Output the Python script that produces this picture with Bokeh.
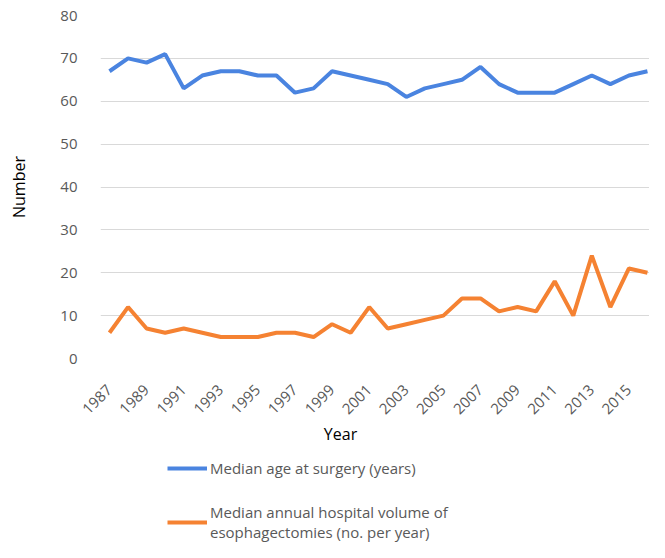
import math
from bokeh.plotting import figure
from bokeh.layouts import column
from bokeh.models import Legend, LegendItem, FixedTicker, ColumnDataSource, Range1d, Label
from bokeh.embed import file_html
from bokeh.resources import INLINE

years = list(range(1987, 2017))
median_age = [67, 70, 69, 71, 63, 66, 67, 67, 66, 66, 62, 63, 67, 66, 65,
              64, 61, 63, 64, 65, 68, 64, 62, 62, 62, 64, 66, 64, 66, 67]
median_volume = [6, 12, 7, 6, 7, 6, 5, 5, 5, 6, 6, 5, 8, 6, 12,
                 7, 8, 9, 10, 14, 14, 11, 12, 11, 18, 10, 24, 12, 21, 20]
x_ticks = list(range(1987, 2016, 2))
y_ticks = [0, 10, 20, 30, 40, 50, 60, 70, 80]
series_labels = ["Median age at surgery (years)",
                 "Median annual hospital volume of\nesophagectomies (no. per year)"]
series_colors = ["#4A84E0", "#F58232"]
x_title = "Year"
y_title = "Number"

src = ColumnDataSource(dict(year=years, age=median_age, vol=median_volume))

FONT = "Open Sans"
GRAY = "#595959"

p = figure(width=649, height=424, output_backend="svg", toolbar_location=None,
           x_range=Range1d(1986.515, 2016.11), y_range=Range1d(0, 80),
           min_border_left=100, min_border_right=0, min_border_top=15,
           min_border_bottom=66)
p.outline_line_color = None

r1 = p.line("year", "age", source=src, line_color=series_colors[0], line_width=4)
r2 = p.line("year", "vol", source=src, line_color=series_colors[1], line_width=4)

p.xaxis.ticker = FixedTicker(ticks=x_ticks)
p.yaxis.ticker = FixedTicker(ticks=y_ticks)
p.xgrid.grid_line_color = None
p.ygrid.grid_line_color = "#D9D9D9"
p.ygrid.grid_line_width = 1

for ax in (p.xaxis, p.yaxis):
    ax.axis_line_color = None
    ax.major_tick_line_color = None
    ax.minor_tick_line_color = None
    ax.major_label_text_font = FONT
    ax.major_label_text_color = GRAY
    ax.major_label_text_font_size = "15px"
    ax.axis_label_text_font = FONT
    ax.axis_label_text_font_style = "normal"
    ax.axis_label_text_font_size = "16px"
    ax.axis_label_text_color = "#000000"

p.xaxis.major_label_orientation = math.pi / 4
p.xaxis.major_label_standoff = 23
p.yaxis.major_label_standoff = 17
p.yaxis.axis_label = y_title
p.yaxis.axis_label_standoff = 27

# lower panel: x-axis title and legend (series drawn out of view, for legend glyphs)
p2 = figure(width=649, height=118, output_backend="svg", toolbar_location=None,
            x_range=Range1d(0, 1), y_range=Range1d(0, 1),
            min_border_left=0, min_border_right=0, min_border_top=0,
            min_border_bottom=0)
p2.outline_line_color = None
p2.axis.visible = False
p2.grid.visible = False

d1 = p2.line("year", "age", source=src, line_color=series_colors[0], line_width=4)
d2 = p2.line("year", "vol", source=src, line_color=series_colors[1], line_width=4)

p2.add_layout(Label(x=240, y=109, x_units="screen", y_units="screen", text=x_title,
                    text_font=FONT, text_font_size="16px", text_color="#000000",
                    text_align="center", text_baseline="middle"))

legend = Legend(items=[LegendItem(label=series_labels[0], renderers=[d1]),
                       LegendItem(label=series_labels[1], renderers=[d2])],
                orientation="vertical", location=(67, 0),
                label_text_font=FONT, label_text_font_size="15px",
                label_text_color=GRAY, glyph_width=40, glyph_height=20,
                label_height=20, spacing=24, border_line_color=None, padding=0,
                margin=0, background_fill_alpha=0, label_standoff=3)
p2.add_layout(legend, "center")

open("out.html", "w").write(file_html(column(p, p2, spacing=0), INLINE))
